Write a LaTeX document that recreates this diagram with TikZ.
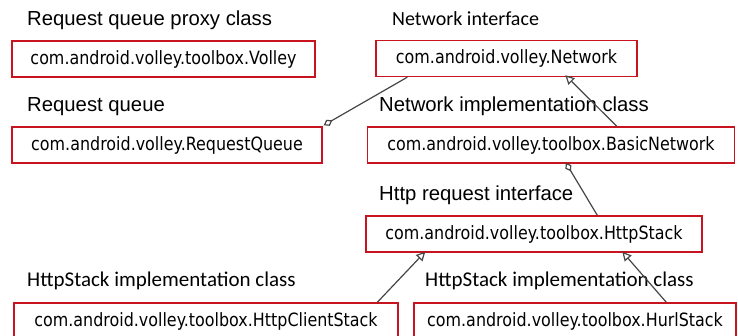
\documentclass[tikz,border=0pt]{standalone}
\usepackage{fontspec}
\setmainfont{Liberation Sans}
\newfontfamily\carlito{Carlito}
\newfontfamily\boxfont[FakeStretch=0.87]{DejaVu Sans}
\usetikzlibrary{arrows.meta,calc}
\definecolor{boxred}{RGB}{200,20,30}
\definecolor{linegray}{RGB}{70,70,70}
\tikzset{
  cls/.style={draw=boxred, line width=1.4pt, inner sep=0pt, minimum height=36pt,
    font=\boxfont\fontsize{18.3}{20}\selectfont, text=black},
  lbl/.style={anchor=base west, inner sep=0pt, font=\fontsize{20.3}{24}\selectfont, text=black},
  clbl/.style={anchor=base west, inner sep=0pt, font=\carlito\fontsize{21}{24}\selectfont, text=black},
  conn/.style={draw=linegray, line width=1.2pt},
  gen/.style={conn, -{Triangle[open, length=9pt, width=9pt]}},
  agg/.style={conn, -{Diamond[open, length=10pt, width=7pt]}}
}
\begin{document}
\begin{tikzpicture}[x=1pt,y=-1pt]
\useasboundingbox (0,0) rectangle (738,336);
\fill[white] (0,0) rectangle (738,336);
% labels
\node[lbl] (l1) at (27,26) {Request queue proxy class};
\node[lbl] (l2) at (27,112) {Request queue};
\node[clbl, font=\carlito\fontsize{20}{24}\selectfont] (l3) at (392,26) {Network interface};
\node[lbl] (l4) at (379,112) {Network implementation class};
\node[lbl] (l5) at (379,201) {Http request interface};
\node[clbl] (l6) at (27,287) {HttpStack implementation class};
\node[clbl] (l7) at (425,287) {HttpStack implementation class};
% boxes
\node[cls, minimum width=303pt] (volley) at (163.5,59) {com.android.volley.toolbox.Volley};
\node[cls, minimum width=310pt] (rq) at (167,145) {com.android.volley.RequestQueue};
\node[cls, minimum width=261pt] (net) at (506.5,58.5) {com.android.volley.Network};
\node[cls, minimum width=367pt] (basic) at (551,145) {com.android.volley.toolbox.BasicNetwork};
\node[cls, minimum width=336pt] (hs) at (534,234) {com.android.volley.toolbox.HttpStack};
\node[cls, minimum width=384pt] (hcs) at (206,321) {com.android.volley.toolbox.HttpClientStack};
\node[cls, minimum width=322pt] (hurl) at (575,321) {com.android.volley.toolbox.HurlStack};
% connectors
\draw[agg] ($(net.south west)+(32,0)$) -- ($(rq.north east)+(1,-1)$);
\draw[gen] ($(basic.north west)+(250,0)$) -- ($(net.south west)+(190,-2)$);
\draw[agg] ($(hs.north west)+(232,0)$) -- ($(basic.south west)+(199,-1)$);
\draw[gen] ($(hcs.north west)+(364,0)$) -- ($(hs.south west)+(60,-1)$);
\draw[gen] ($(hurl.north west)+(253,0)$) -- ($(hs.south west)+(257,-1)$);
\end{tikzpicture}
\end{document}
